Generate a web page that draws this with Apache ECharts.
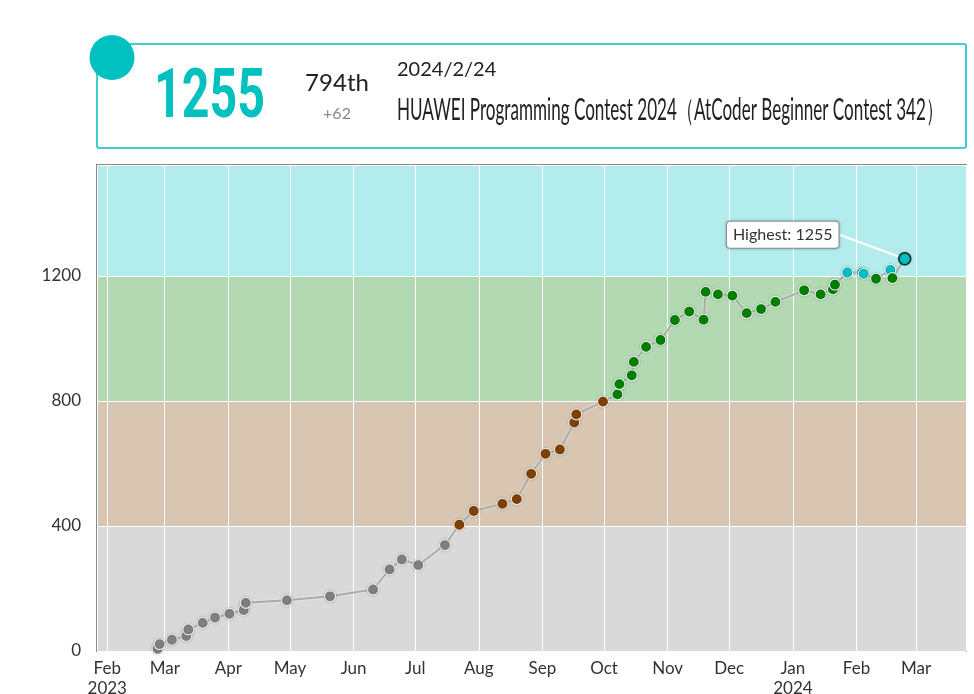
<!DOCTYPE html>
<html>
<head>
<meta charset="utf-8">
<script src="https://cdn.jsdelivr.net/npm/echarts@6/dist/echarts.min.js"></script>
<style>
html, body { margin: 0; padding: 0; background: #fff; }
#chart { width: 974px; height: 694px; }
</style>
</head>
<body>
<div id="chart"></div>
<script>
// ============================
// Datos
// ============================
var contestDates = [
    "2023-02-25", "2023-02-26", "2023-03-04", "2023-03-11", "2023-03-12", "2023-03-19", "2023-03-25",
    "2023-04-01", "2023-04-08", "2023-04-09", "2023-04-29", "2023-05-20", "2023-06-10", "2023-06-18",
    "2023-06-24", "2023-07-02", "2023-07-15", "2023-07-22", "2023-07-29", "2023-08-12", "2023-08-19",
    "2023-08-26", "2023-09-02", "2023-09-09", "2023-09-16", "2023-09-17", "2023-09-30", "2023-10-07",
    "2023-10-08", "2023-10-14", "2023-10-15", "2023-10-21", "2023-10-28", "2023-11-04", "2023-11-11",
    "2023-11-18", "2023-11-19", "2023-11-25", "2023-12-02", "2023-12-09", "2023-12-16", "2023-12-23",
    "2024-01-06", "2024-01-14", "2024-01-20", "2024-01-21", "2024-01-27", "2024-02-03", "2024-02-04",
    "2024-02-10", "2024-02-17", "2024-02-18", "2024-02-24"
];
var ratings = [
    7, 22, 36, 48, 69, 90, 107,
    119, 131, 154, 162, 175, 197, 261,
    293, 275, 339, 404, 448, 471, 486,
    567, 631, 645, 731, 757, 798, 821,
    854, 882, 925, 973, 995, 1059, 1086,
    1060, 1149, 1141, 1137, 1081, 1094, 1117,
    1154, 1141, 1157, 1172, 1211, 1211, 1207,
    1191, 1219, 1193, 1255
];
var monthNames = ["Jan", "Feb", "Mar", "Apr", "May", "Jun", "Jul", "Aug", "Sep", "Oct", "Nov", "Dec"];
var rankBounds = [0, 400, 800, 1200, 1600];
var rankColors = ["#808080", "#804000", "#008000", "#00C0C0"];
var bandColors = ["#D9D9D9", "#D9C6B2", "#B2D9B2", "#B2ECEC"];

var lastInfo = {
    rating: 1255, place: "794th", delta: "+62", date: "2024/2/24",
    contest: "HUAWEI Programming Contest 2024（AtCoder Beginner Contest 342）"
};

// ============================
// Utilidades
// ============================
function rankColor(r) {
    for (var i = 0; i < rankColors.length; i++) {
        if (r < rankBounds[i + 1]) return rankColors[i];
    }
    return rankColors[rankColors.length - 1];
}
function toTime(s) {
    var p = s.split("-");
    return Date.UTC(+p[0], +p[1] - 1, +p[2], 12);
}
// ancho de texto para comprimirlo horizontalmente
var measureCtx = document.createElement("canvas").getContext("2d");
function fitScale(text, font, width) {
    measureCtx.font = font;
    return width / measureCtx.measureText(text).width;
}

var xMin = Date.UTC(2023, 0, 27);
var xMax = Date.UTC(2024, 2, 25, 8);
var firstTick = Date.UTC(2023, 1, 1);

var last = ratings.length - 1;
var points = ratings.map((r, i) => {
    var item = {
        value: [toTime(contestDates[i]), r],
        itemStyle: { color: rankColor(r) }
    };
    if (i === last) {
        item.symbolSize = 12;
        item.itemStyle = { color: rankColor(r), borderColor: "rgba(0,0,0,0.75)", borderWidth: 1.5 };
        item.label = {
            show: true,
            position: "inside",
            formatter: "Highest: " + r,
            fontFamily: "Lato",
            fontSize: 16,
            color: "#333",
            backgroundColor: "#fff",
            borderColor: "#999",
            borderWidth: 1,
            borderRadius: 3,
            padding: [5, 6],
            shadowColor: "rgba(0,0,0,0.25)",
            shadowBlur: 3
        };
        item.labelLine = { show: true, lineStyle: { color: "#fff", width: 2 } };
    }
    return item;
});

var bandAreas = bandColors.map((c, i) => [
    { yAxis: rankBounds[i], itemStyle: { color: c } },
    { yAxis: rankBounds[i + 1] }
]);

var ratingFont = "bold 68px Roboto";
var contestFont = "30px Lato";

// ============================
// Chart
// ============================
var chart = echarts.init(document.getElementById("chart"));
chart.setOption({
    useUTC: true,
    animation: false,
    grid: {
        left: 97, right: 8, top: 165, bottom: 43,
        show: true, borderColor: "#888", borderWidth: 2,
        outerBoundsMode: "none"
    },
    xAxis: {
        type: "time",
        z: 1,
        min: xMin,
        max: xMax,
        minInterval: 30 * 86400000,
        maxInterval: 30 * 86400000,
        axisLine: { show: false },
        axisTick: { show: false },
        splitLine: { show: true, lineStyle: { color: "#fff", width: 1 } },
        axisLabel: {
            color: "#333",
            fontFamily: "Lato",
            fontSize: 17,
            lineHeight: 20,
            margin: 8,
            hideOverlap: false,
            formatter: v => {
                var d = new Date(v);
                var m = d.getUTCMonth();
                var s = monthNames[m];
                if (v === firstTick || m === 0) s += "\n" + d.getUTCFullYear();
                return s;
            }
        }
    },
    yAxis: {
        type: "value",
        z: 1,
        min: 0,
        max: 1555,
        interval: 400,
        axisLine: { show: false },
        axisTick: { show: false },
        splitLine: { show: true, lineStyle: { color: "#fff", width: 1 } },
        axisLabel: {
            color: "#333",
            fontFamily: "Lato",
            fontSize: 17,
            margin: 16,
            showMaxLabel: false,
            formatter: v => (v % 400 === 0 ? String(v) : "")
        }
    },
    series: [
        {
            type: "line",
            z: 0,
            silent: true,
            data: [],
            markArea: { silent: true, z: 0, data: bandAreas }
        },
        {
            type: "line",
            z: 3,
            data: points,
            symbol: "circle",
            symbolSize: 11,
            lineStyle: { color: "#aaa", width: 2, shadowColor: "rgba(255,255,255,0.9)", shadowBlur: 2 },
            itemStyle: {
                borderColor: "rgba(255,255,255,0.85)",
                borderWidth: 1.2,
                shadowColor: "rgba(0,0,0,0.3)",
                shadowBlur: 2
            },
            labelLayout: { dx: -122, dy: -24 }
        }
    ],
    graphic: [
        {
            type: "rect",
            shape: { x: 97, y: 44, width: 869, height: 104, r: 2 },
            style: { fill: "#fff", stroke: "#00C0C0", lineWidth: 1.5 }
        },
        {
            type: "circle",
            shape: { cx: 112, cy: 57.5, r: 22.5 },
            style: { fill: "#00C0C0" }
        },
        {
            type: "text",
            x: 154, y: 100,
            scaleX: fitScale(String(lastInfo.rating), ratingFont, 111),
            style: {
                text: String(lastInfo.rating), fill: "#00C0C0",
                font: ratingFont, align: "left", verticalAlign: "middle"
            }
        },
        {
            type: "text",
            x: 337, y: 83,
            style: {
                text: lastInfo.place, fill: "#222",
                font: "24px Lato", align: "center", verticalAlign: "middle"
            }
        },
        {
            type: "text",
            x: 337, y: 114,
            style: {
                text: lastInfo.delta, fill: "#888",
                font: "16px Lato", align: "center", verticalAlign: "middle"
            }
        },
        {
            type: "text",
            x: 397, y: 70,
            style: {
                text: lastInfo.date, fill: "#222",
                font: "20px Lato", align: "left", verticalAlign: "middle"
            }
        },
        {
            type: "text",
            x: 397, y: 110,
            scaleX: fitScale(lastInfo.contest, contestFont, 546),
            style: {
                text: lastInfo.contest, fill: "#222",
                font: contestFont, align: "left", verticalAlign: "middle"
            }
        }
    ]
});
</script>
</body>
</html>
